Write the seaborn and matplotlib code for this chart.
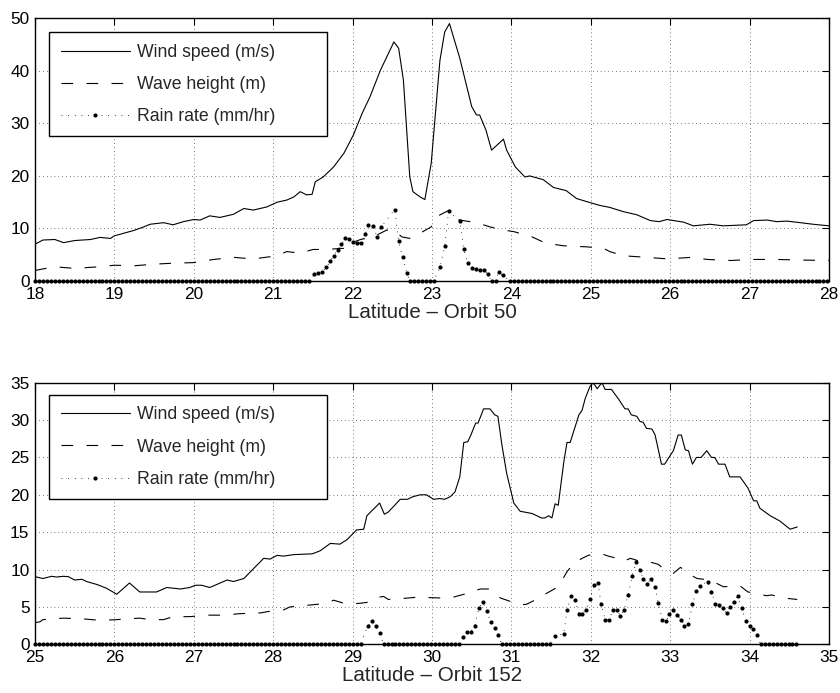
import numpy as np
import pandas as pd
import matplotlib
matplotlib.use("Agg")
import matplotlib.pyplot as plt
import seaborn as sns

sns.set_style("white")
plt.rcParams['font.family'] = ['Liberation Sans', 'DejaVu Sans']

# ---------------- Orbit 50 ----------------
wind50_lat = [18.00, 18.10, 18.25, 18.36, 18.50, 18.70, 18.82, 18.95, 19.00, 19.24,
              19.37, 19.45, 19.62, 19.74, 19.87, 20.00, 20.08, 20.20, 20.33, 20.50,
              20.63, 20.75, 20.92, 21.05, 21.17, 21.26, 21.34, 21.42, 21.49, 21.53,
              21.63, 21.76, 21.89, 22.01, 22.12, 22.22, 22.35, 22.52, 22.58, 22.64,
              22.72, 22.76, 22.85, 22.91, 22.99, 23.10, 23.16, 23.22, 23.35, 23.50,
              23.56, 23.60, 23.68, 23.75, 23.90, 23.94, 24.05, 24.17, 24.23, 24.40,
              24.53, 24.69, 24.82, 24.95, 25.11, 25.24, 25.41, 25.58, 25.75, 25.86,
              25.96, 26.17, 26.29, 26.50, 26.67, 26.96, 27.05, 27.22, 27.34, 27.47,
              27.64, 27.80, 28.00]
wind50 = [7.0, 7.8, 7.9, 7.3, 7.7, 7.9, 8.3, 8.1, 8.6, 9.6,
          10.3, 10.8, 11.1, 10.7, 11.3, 11.7, 11.6, 12.4, 12.1, 12.7,
          13.8, 13.5, 14.1, 15.0, 15.4, 16.0, 17.0, 16.4, 16.5, 18.9,
          19.8, 21.7, 24.3, 27.8, 31.9, 35.1, 40.1, 45.5, 44.3, 38.2,
          19.8, 17.0, 16.0, 15.5, 22.4, 42.0, 47.4, 49.0, 42.4, 33.2,
          31.6, 31.6, 28.7, 24.9, 27.0, 24.9, 21.7, 19.8, 20.0, 19.3,
          17.8, 17.2, 15.7, 15.1, 14.4, 14.0, 13.2, 12.6, 11.5, 11.3,
          11.7, 11.2, 10.5, 10.8, 10.5, 10.7, 11.5, 11.6, 11.3, 11.4,
          11.1, 10.8, 10.5]

wave50_lat = [18.00, 18.10, 18.25, 18.50, 18.80, 19.00, 19.25, 19.50, 19.75, 20.00,
              20.25, 20.50, 20.75, 21.05, 21.17, 21.34, 21.50, 21.67, 21.85, 21.97,
              22.03, 22.10, 22.26, 22.43, 22.52, 22.62, 22.72, 22.85, 22.99, 23.05,
              23.22, 23.35, 23.56, 23.73, 23.90, 24.03, 24.26, 24.43, 24.66, 24.95,
              25.16, 25.24, 25.41, 25.71, 25.97, 26.26, 26.47, 26.76, 27.01, 27.34,
              27.60, 28.00]
wave50 = [2.0, 2.3, 2.7, 2.4, 2.7, 3.0, 2.9, 3.2, 3.4, 3.5,
          4.1, 4.5, 4.2, 4.8, 5.6, 5.3, 6.0, 6.0, 6.2, 6.2,
          7.5, 7.9, 8.4, 9.7, 9.7, 8.4, 8.1, 9.1, 10.3, 12.2,
          13.5, 11.6, 11.1, 10.3, 9.7, 9.4, 8.4, 7.2, 6.7, 6.5,
          6.2, 5.6, 4.8, 4.5, 4.2, 4.5, 4.1, 3.9, 4.1, 4.1,
          4.0, 3.9]

rain50_lat = [21.52, 21.57, 21.62, 21.67, 21.72, 21.76, 21.81, 21.86, 21.91, 21.96,
              22.00, 22.05, 22.11, 22.16, 22.20, 22.26, 22.31, 22.36, 22.53, 22.58,
              22.63, 22.68, 23.10, 23.16, 23.21, 23.35, 23.40, 23.45, 23.50, 23.55,
              23.60, 23.65, 23.70, 23.84, 23.89]
rain50 = [1.3, 1.6, 1.8, 2.6, 3.8, 4.8, 5.9, 7.0, 8.1, 8.0,
          7.4, 7.2, 7.3, 8.9, 10.6, 10.5, 8.3, 10.3, 13.6, 7.6,
          4.5, 1.6, 2.6, 6.6, 13.3, 11.4, 6.0, 3.5, 2.4, 2.2,
          2.1, 2.0, 1.4, 1.7, 1.1]
# latitude spans where the rain rate reads 0 (samples every 0.05 deg)
rain50_zero_spans = [(18.00, 21.47), (22.72, 23.06), (23.75, 23.80), (23.98, 28.00)]

# ---------------- Orbit 152 ----------------
wind152_lat = [25.00, 25.10, 25.21, 25.27, 25.36, 25.42, 25.50, 25.59, 25.65, 25.78,
               25.90, 26.03, 26.19, 26.32, 26.53, 26.66, 26.83, 26.95, 27.02, 27.10,
               27.20, 27.42, 27.50, 27.63, 27.88, 27.96, 28.05, 28.13, 28.26, 28.49,
               28.59, 28.72, 28.84, 28.93, 29.05, 29.14, 29.18, 29.34, 29.40, 29.45,
               29.60, 29.69, 29.76, 29.85, 29.93, 30.02, 30.10, 30.16, 30.23, 30.29,
               30.35, 30.40, 30.45, 30.49, 30.55, 30.58, 30.65, 30.73, 30.79, 30.83,
               30.88, 30.94, 31.03, 31.11, 31.26, 31.38, 31.42, 31.47, 31.51, 31.55,
               31.59, 31.66, 31.70, 31.74, 31.85, 31.89, 31.93, 31.99, 32.03, 32.08,
               32.14, 32.18, 32.26, 32.35, 32.43, 32.47, 32.51, 32.58, 32.62, 32.66,
               32.70, 32.77, 32.81, 32.89, 32.93, 32.99, 33.04, 33.10, 33.14, 33.19,
               33.23, 33.28, 33.33, 33.39, 33.46, 33.52, 33.56, 33.61, 33.69, 33.75,
               33.88, 33.98, 34.05, 34.09, 34.13, 34.26, 34.38, 34.51, 34.60]
wind152 = [9.05, 8.8, 9.1, 9.0, 9.1, 9.05, 8.6, 8.7, 8.4, 8.0,
           7.5, 6.7, 8.2, 7.0, 7.0, 7.6, 7.4, 7.6, 7.9, 7.9,
           7.6, 8.6, 8.4, 8.8, 11.5, 11.4, 11.9, 11.8, 12.0, 12.1,
           12.5, 13.5, 13.4, 14.0, 15.3, 15.4, 17.2, 18.9, 17.4, 17.7,
           19.4, 19.4, 19.75, 20.0, 20.0, 19.4, 19.5, 19.4, 19.75, 20.4,
           22.4, 27.0, 27.1, 28.0, 29.6, 29.6, 31.5, 31.5, 30.7, 30.5,
           26.7, 22.9, 18.9, 17.8, 17.5, 16.9, 16.9, 17.2, 16.9, 18.8,
           18.6, 24.4, 27.0, 27.0, 30.7, 31.3, 32.9, 34.5, 35.0, 34.2,
           35.0, 34.1, 34.1, 32.8, 31.5, 31.5, 30.7, 30.5, 29.8, 29.7,
           28.9, 28.8, 28.0, 24.1, 24.1, 25.1, 25.9, 28.0, 28.0, 26.0,
           25.9, 24.1, 25.0, 25.0, 25.9, 25.0, 25.0, 24.1, 24.1, 22.4,
           22.4, 20.9, 19.2, 19.2, 18.2, 17.2, 16.5, 15.4, 15.7]

wave152_lat = [25.00, 25.06, 25.10, 25.36, 25.61, 25.82, 26.03, 26.16, 26.32, 26.45,
               26.62, 26.74, 26.95, 27.16, 27.37, 27.58, 27.84, 28.00, 28.13, 28.21,
               28.51, 28.68, 28.76, 28.89, 29.01, 29.18, 29.26, 29.39, 29.45, 29.60,
               29.81, 30.10, 30.23, 30.44, 30.61, 30.71, 30.86, 30.97, 31.11, 31.19,
               31.34, 31.44, 31.59, 31.70, 31.78, 31.89, 31.97, 32.11, 32.22, 32.33,
               32.41, 32.50, 32.62, 32.73, 32.85, 32.94, 33.04, 33.13, 33.25, 33.34,
               33.50, 33.67, 33.88, 33.98, 34.13, 34.21, 34.28, 34.42, 34.60]
wave152 = [2.9, 3.0, 3.3, 3.5, 3.4, 3.2, 3.3, 3.4, 3.5, 3.3,
           3.3, 3.7, 3.7, 3.9, 3.9, 4.1, 4.2, 4.5, 4.6, 5.0,
           5.3, 5.5, 5.9, 5.5, 5.4, 5.6, 6.2, 6.4, 6.0, 6.1,
           6.3, 6.2, 6.2, 6.8, 7.4, 7.4, 6.2, 5.8, 5.3, 5.35,
           6.15, 6.8, 7.7, 9.7, 10.8, 11.5, 11.9, 12.2, 11.8, 11.5,
           11.1, 11.5, 11.1, 11.05, 10.7, 9.9, 9.5, 10.3, 9.3, 8.8,
           8.6, 7.7, 7.8, 7.0, 6.7, 6.5, 6.6, 6.2, 6.0]

rain152_lat = [29.19, 29.24, 29.29, 29.34,
               30.39, 30.44, 30.49, 30.54, 30.59, 30.64, 30.69, 30.74, 30.79, 30.83,
               31.55, 31.66, 31.70, 31.75, 31.80, 31.85, 31.89, 31.94, 31.99, 32.04,
               32.09, 32.13, 32.18, 32.23, 32.28, 32.33, 32.37, 32.42, 32.47, 32.52,
               32.57, 32.62, 32.66, 32.71, 32.76, 32.81, 32.85, 32.90, 32.95, 32.99,
               33.04, 33.09, 33.14, 33.18, 33.23, 33.28, 33.33, 33.37, 33.47, 33.52,
               33.57, 33.61, 33.66, 33.71, 33.75, 33.80, 33.85, 33.90, 33.95, 34.00,
               34.04, 34.09]
rain152 = [2.4, 3.1, 2.5, 1.5,
           1.0, 1.7, 1.7, 2.5, 4.8, 5.6, 4.4, 3.0, 2.2, 1.2,
           1.1, 1.4, 4.6, 6.4, 5.9, 4.1, 4.1, 4.6, 6.0, 7.9,
           8.2, 5.4, 3.3, 3.3, 4.6, 4.6, 3.8, 4.6, 6.6, 9.1,
           11.0, 9.9, 8.8, 8.1, 8.8, 7.7, 5.5, 3.3, 3.1, 4.1,
           4.6, 3.9, 3.3, 2.5, 2.7, 5.4, 7.1, 7.8, 8.4, 7.0,
           5.4, 5.2, 4.8, 4.2, 5.0, 5.7, 6.4, 4.9, 3.1, 2.4,
           2.1, 1.2]
rain152_zero_spans = [(25.00, 29.14), (29.39, 30.34), (30.88, 31.50), (34.14, 34.61)]

labels = ["Wind speed (m/s)", "Wave height (m)", "Rain rate (mm/hr)"]


def rain_frame(lat, val, zero_spans):
    zl = np.concatenate([np.arange(a, b + 1e-6, 0.05) for a, b in zero_spans])
    df = pd.DataFrame({"lat": np.concatenate([np.asarray(lat, float), zl]),
                       "rain": np.concatenate([np.asarray(val, float), np.zeros(len(zl))])})
    return df.sort_values("lat").reset_index(drop=True)


def panel(ax, wlat, w, hlat, h, rlat, r, zspans, xlim, ylim, ystep, xlabel, legtop):
    sns.lineplot(x=np.asarray(wlat), y=np.asarray(w), ax=ax, color="k", lw=0.8,
                 estimator=None, label=labels[0])
    sns.lineplot(x=np.asarray(hlat), y=np.asarray(h), ax=ax, color="k", lw=0.8,
                 linestyle=(0, (10.5, 12)), estimator=None, label=labels[1])
    rdf = rain_frame(rlat, r, zspans)
    sns.lineplot(data=rdf, x="lat", y="rain", ax=ax, color="k", lw=0.6,
                 linestyle=(0, (1, 7)), marker="o", markersize=3.0,
                 markeredgecolor="k", markerfacecolor="k", markeredgewidth=0,
                 estimator=None, label=labels[2], clip_on=False)
    ax.set_xlim(*xlim)
    ax.set_ylim(*ylim)
    ax.set_xticks(np.arange(xlim[0], xlim[1] + 0.5, 1))
    ax.set_yticks(np.arange(ylim[0], ylim[1] + 0.5, ystep))
    ax.set_xlabel(xlabel, fontsize=14.8, labelpad=1)
    ax.set_ylabel("")
    ax.grid(True, linestyle=(0, (1, 4.5)), color="k", linewidth=0.5)
    ax.set_axisbelow(True)
    ax.tick_params(direction="in", length=5, width=0.8, top=True, right=True,
                   labelsize=12.4, pad=4, colors="k")
    for s in ax.spines.values():
        s.set_linewidth(1.0)
        s.set_color("k")
    leg = ax.legend(loc="upper left", bbox_to_anchor=(0.018, 0.0, 0.35, legtop),
                    mode="expand", borderaxespad=0, fontsize=12.7, numpoints=1,
                    handlelength=3.9, handletextpad=0.45, borderpad=0.65,
                    labelspacing=0.86, fancybox=False, framealpha=1,
                    edgecolor="k")
    leg.get_frame().set_linewidth(1.0)
    leg.set_zorder(5)


fig = plt.figure(figsize=(8.4, 6.93), dpi=100)
ax1 = fig.add_axes([35 / 840, 1 - 281 / 693, 794 / 840, 262.7 / 693])
ax2 = fig.add_axes([35 / 840, 1 - 644.3 / 693, 794 / 840, 261.6 / 693])

panel(ax1, wind50_lat, wind50, wave50_lat, wave50, rain50_lat, rain50,
      rain50_zero_spans, (18, 28), (0, 50), 10, "Latitude – Orbit 50", 0.947)
panel(ax2, wind152_lat, wind152, wave152_lat, wave152, rain152_lat, rain152,
      rain152_zero_spans, (25, 35), (0, 35), 5, "Latitude – Orbit 152", 0.953)

fig.savefig("out.png", dpi=100)
